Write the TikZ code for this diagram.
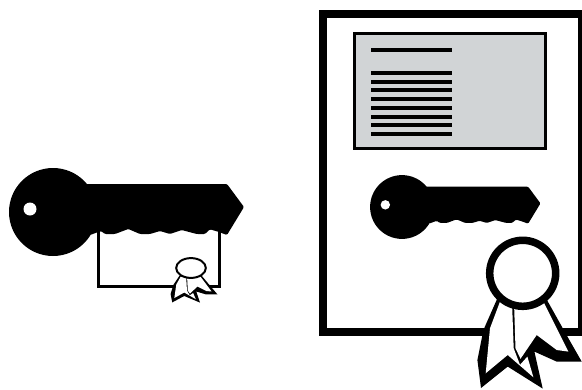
\documentclass[tikz,border=0pt]{standalone}
\usepackage{xcolor}
\definecolor{panelgray}{rgb}{0.82,0.83,0.84}
\tikzset{
  docframe/.style ={draw=black, line width=8pt, fill=white, line join=miter},
  panel/.style    ={draw=black, line width=3pt, fill=panelgray},
  textline/.style ={draw=black, line width=4pt},
  certbox/.style  ={draw=black, line width=3pt},
  key/.pic={
    \fill[black] (0,0) circle (44);
    \fill[black, rounded corners=1.2pt] (30,-28) -- (174,-28) -- (191,-5) -- (174,23)
      -- (165,19.7) -- (157,17.3) -- (152,22) -- (143.7,22) -- (128.7,18) -- (117,22)
      -- (107,19) -- (97,22) -- (87,22) -- (75.3,17) -- (62,22) -- (52,22) -- (48,19)
      -- (37,23) -- cycle;
    \fill[white] (-23,-3) circle (6.5);
  },
  ribbon/.pic={
    \fill[black] (-25.3,25) -- (-39.3,56.7) -- (-45.3,86.7) -- (-41.7,114.7) -- (-15,93.3)
      -- (20,115.3) -- (11.7,78.3) -- (34,88.3) -- (59,88.3) -- (45.7,65) -- (23.3,25) -- cycle;
    \fill[white] (-22.7,28.3) -- (-10.5,34) -- (-9,75) -- (-2.7,91.5) -- (4.7,83.3)
      -- (10.7,104) -- (-15,81.7) -- (-37,100) -- (-32.7,55) -- cycle;
    \fill[white] (-8.5,35) -- (20.7,28.3) -- (45.7,78.3) -- (34,76.7) -- (14,61.7)
      -- (-2.2,85.5) -- (-7.2,75) -- cycle;
    \draw[fill=white] (0,0) circle (33);
  },
}

\begin{document}
\begin{tikzpicture}[x=1pt, y=-1pt]
  \useasboundingbox (0,0) rectangle (582,389);
  % left: key with its small certificate
  \draw[certbox] (98,225) rectangle (219,286);
  \pic at (53,212) {key};
  \pic[xscale=.45, yscale=.3, line width=2pt] at (191,268) {ribbon};
  % right: signed document
  \draw[docframe] (323,14) rectangle (582,332);
  \draw[panel] (354.5,33.5) rectangle (545.5,148.5);
  \draw[textline] (371,50) -- (452,50);
  \foreach \ypos in {73,82,90,99,108,117,125,134}
    \draw[textline] (371,\ypos) -- (452,\ypos);
  \pic[scale=.725] at (402,207) {key};
  \pic[line width=7.5pt] at (522.7,273.3) {ribbon};
\end{tikzpicture}
\end{document}
